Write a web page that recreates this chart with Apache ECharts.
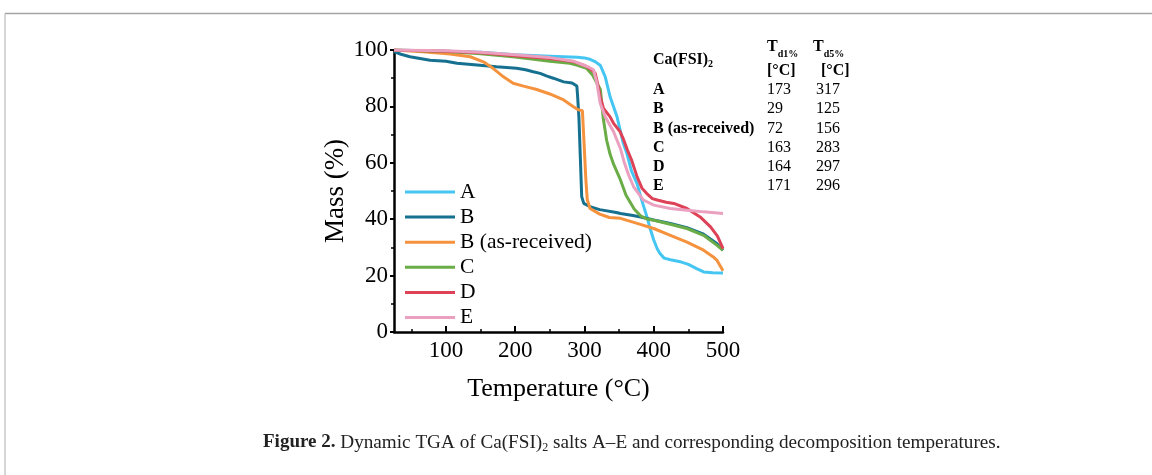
<html>
<head>
    <meta charset="utf-8">
    <title>Dynamic TGA of Ca(FSI)2 salts</title>
    <script src="https://cdn.jsdelivr.net/npm/echarts@6.0.0/dist/echarts.min.js"></script>
</head>
<body style="margin:0;background:#fff">
    <div id="main" style="width:1152px;height:475px"></div>
    <script type="text/javascript">
        // TGA curves: temperature (°C) / mass (%)
        var names = ['A', 'B', 'B (as-received)', 'C', 'D', 'E'];
        var colors = ['#45c6f2', '#16708f', '#f5923e', '#6aac46', '#de4257', '#eaa0be'];

        var tA = [25, 100, 150, 200, 250, 290, 300, 308, 316, 323, 330, 337, 347, 356, 361, 368, 376, 383, 390, 395, 400, 405, 409, 415, 424, 440, 450, 462, 472, 485, 500];
        var mA = [100, 99.6, 99.2, 98.3, 97.8, 97.4, 97.2, 96.7, 95.8, 94.5, 90.5, 83.4, 76.3, 66.9, 63.5, 57, 52.5, 46.5, 41, 36.5, 32.6, 29.5, 27.8, 26.2, 25.6, 24.8, 24, 22.5, 21.3, 21, 20.9];

        var tB = [25, 35, 48, 77, 100, 116, 145, 173, 202, 215, 226, 236, 245, 255, 270, 282, 289, 290, 292, 294, 296, 299, 308, 322, 346, 352, 370, 381, 400, 424, 448, 472, 491, 500];
        var mB = [99.4, 98.5, 97.6, 96.4, 96, 95.3, 94.7, 94.1, 93.5, 93, 92.3, 91.7, 90.8, 90, 88.7, 88.3, 87.2, 84, 76, 62, 48, 45.6, 44.4, 43.4, 42.4, 42, 41.3, 40.8, 39.7, 38.5, 37, 34.7, 31.4, 29];

        var tBas = [25, 67, 106, 135, 154, 168, 183, 197, 212, 231, 250, 270, 284, 291, 297, 299, 302, 304, 308, 322, 336, 352, 376, 400, 424, 448, 472, 486, 491, 500];
        var mBas = [100, 99.4, 98.6, 97.6, 95.8, 93.5, 90.5, 88.2, 87.2, 86, 84.4, 82.3, 79.9, 78.8, 78.5, 69, 54, 47, 43.8, 41.8, 40.6, 40.3, 38.5, 36.7, 34.3, 31.9, 29, 26.6, 25.5, 21.7];

        var tC = [25, 100, 150, 200, 250, 279, 290, 303, 312, 318, 323, 327, 332, 337, 342, 351, 360, 366, 372, 381, 390, 400, 424, 448, 472, 491, 500];
        var mC = [100, 99.5, 98.7, 97.5, 96, 95.3, 94.6, 93.5, 91, 88.2, 86, 76, 68, 63, 59.5, 54.5, 48.5, 46, 43.5, 41.2, 40.1, 39.6, 38.2, 36.7, 34.3, 30.8, 29];

        var tD = [25, 100, 150, 200, 250, 285, 300, 310, 315.5, 319, 322.7, 327.5, 337, 342, 351.6, 356, 362, 368, 376, 383, 390, 398, 405, 418, 429, 448, 467, 482, 492, 500];
        var mD = [100, 99.6, 99, 98, 97, 95.8, 94.5, 93, 91.7, 88, 83.4, 79.3, 76.3, 74, 71, 68.5, 64.5, 61, 55, 51, 49.1, 47.3, 46.8, 46, 45.6, 43.8, 40.8, 37.3, 34, 29.6];

        var tE = [25, 100, 150, 200, 250, 285, 300, 307, 313, 318, 322.7, 330, 342, 352, 357, 364, 371, 385, 400, 424, 448, 472, 500];
        var mE = [100, 99.7, 99.2, 98.3, 97.3, 96, 94.5, 93.8, 93, 88.2, 81.1, 76.3, 71, 65, 60.5, 55.5, 51.5, 46.8, 45, 43.8, 43.2, 42.6, 42];

        var temps = [tA, tB, tBas, tC, tD, tE];
        var masses = [mA, mB, mBas, mC, mD, mE];

        // axis ticks
        var xTicks = [100, 200, 300, 400, 500];
        var xMinorTicks = [50, 150, 250, 350, 450];
        var yTicks = [0, 20, 40, 60, 80, 100];

        // decomposition temperature table
        var tableRows = ['A', 'B', 'B (as-received)', 'C', 'D', 'E'];
        var td1 = [173, 29, 72, 163, 164, 171];
        var td5 = [317, 125, 156, 283, 297, 296];

        var serif = 'Liberation Serif';
        var myChart = echarts.init(document.getElementById('main'));

        var series = [];
        for (var i = 0; i < names.length; i++) {
            var pts = [];
            for (var j = 0; j < temps[i].length; j++) {
                pts.push([temps[i][j], masses[i][j]]);
            }
            series.push({
                name: names[i],
                type: 'line',
                data: pts,
                showSymbol: false,
                symbol: 'none',
                lineStyle: { color: colors[i], width: 3 },
                itemStyle: { color: colors[i] },
                animation: false
            });
        }

        // frame, table and caption
        var graphics = [];
        graphics.push({ type: 'line', shape: { x1: 5, y1: 13.5, x2: 1152, y2: 13.5 }, style: { stroke: '#a3a3a3', lineWidth: 1.5 } });
        graphics.push({ type: 'line', shape: { x1: 5, y1: 13.5, x2: 5, y2: 475 }, style: { stroke: '#c8c8c8', lineWidth: 1.5 } });
        graphics.push({
            type: 'text', left: 653, top: 52,
            style: {
                text: '{a|Ca(FSI)}{s|2}',
                rich: {
                    a: { fontFamily: serif, fontWeight: 'bold', fontSize: 16, lineHeight: 18, fill: '#000' },
                    s: { fontFamily: serif, fontWeight: 'bold', fontSize: 10, lineHeight: 6, verticalAlign: 'bottom', fill: '#000' }
                }
            }
        });
        var hdrX = [767, 813];
        var unitX = [767, 821];
        var hdrSub = ['d1%', 'd5%'];
        for (var k = 0; k < 2; k++) {
            graphics.push({
                type: 'text', left: hdrX[k], top: 39,
                style: {
                    text: '{a|T}{s|' + hdrSub[k] + '}',
                    rich: {
                        a: { fontFamily: serif, fontWeight: 'bold', fontSize: 16, lineHeight: 24, fill: '#000' },
                        s: { fontFamily: serif, fontWeight: 'bold', fontSize: 10, lineHeight: 2, verticalAlign: 'bottom', fill: '#000' }
                    }
                }
            });
            graphics.push({
                type: 'text', left: unitX[k], top: 63,
                style: { text: '[°C]', fontFamily: serif, fontWeight: 'bold', fontSize: 16, fill: '#000' }
            });
        }
        for (var r = 0; r < tableRows.length; r++) {
            var ry = 82 + r * 19.2;
            graphics.push({ type: 'text', left: 653, top: ry, style: { text: tableRows[r], fontFamily: serif, fontWeight: 'bold', fontSize: 16, fill: '#000' } });
            graphics.push({ type: 'text', left: 767, top: ry, style: { text: String(td1[r]), fontFamily: serif, fontSize: 16, fill: '#000' } });
            graphics.push({ type: 'text', left: 816, top: ry, style: { text: String(td5[r]), fontFamily: serif, fontSize: 16, fill: '#000' } });
        }
        graphics.push({
            type: 'text', left: 263, top: 433,
            style: {
                text: '{b|Figure 2.}{n| Dynamic TGA of Ca(FSI)}{s|2}{n| salts A–E and corresponding decomposition temperatures.}',
                rich: {
                    b: { fontFamily: serif, fontWeight: 'bold', fontSize: 19, lineHeight: 22, fill: '#222' },
                    n: { fontFamily: serif, fontSize: 19.2, lineHeight: 22, fill: '#222' },
                    s: { fontFamily: serif, fontSize: 12, lineHeight: 8, verticalAlign: 'bottom', fill: '#222' }
                }
            }
        });

        var option = {
            backgroundColor: '#fff',
            animation: false,
            grid: { left: 394, right: 429, top: 50, bottom: 143, containLabel: false, outerBoundsMode: 'none' },
            legend: {
                data: names,
                orient: 'vertical',
                left: 405,
                top: 181,
                padding: 0,
                icon: 'rect',
                itemWidth: 50,
                itemHeight: 3,
                itemGap: 3.1,
                textStyle: { fontFamily: serif, fontSize: 21.5, lineHeight: 21.5, color: '#000' }
            },
            xAxis: [
                {
                    type: 'value',
                    min: 25,
                    max: 500,
                    name: 'Temperature (°C)',
                    nameLocation: 'middle',
                    nameGap: 44,
                    nameTextStyle: { fontFamily: serif, fontSize: 26, color: '#000' },
                    axisLine: { lineStyle: { color: '#000', width: 2.5 } },
                    axisTick: { inside: true, length: 6, customValues: xTicks, lineStyle: { color: '#000', width: 2 } },
                    axisLabel: { customValues: xTicks, fontFamily: serif, fontSize: 23, color: '#000', margin: 7 },
                    splitLine: { show: false }
                },
                {
                    type: 'value',
                    min: 25,
                    max: 500,
                    position: 'bottom',
                    axisLine: { show: false },
                    axisTick: { inside: true, length: 3, customValues: xMinorTicks, lineStyle: { color: '#000', width: 1.5 } },
                    axisLabel: { show: false },
                    splitLine: { show: false }
                }
            ],
            yAxis: {
                type: 'value',
                min: 0,
                max: 100,
                interval: 20,
                name: 'Mass (%)',
                nameLocation: 'middle',
                nameGap: 44,
                nameTextStyle: { fontFamily: serif, fontSize: 27, color: '#000' },
                axisLine: { show: true, lineStyle: { color: '#000', width: 2.5 } },
                axisTick: { show: true, length: 4, customValues: yTicks, lineStyle: { color: '#000', width: 2 } },
                minorTick: { show: true, splitNumber: 2, length: 3, lineStyle: { color: '#000', width: 1.5 } },
                axisLabel: { customValues: yTicks, fontFamily: serif, fontSize: 23, color: '#000', margin: 6 },
                splitLine: { show: false }
            },
            graphic: graphics,
            series: series
        };
        myChart.setOption(option);
    </script>
</body>
</html>
